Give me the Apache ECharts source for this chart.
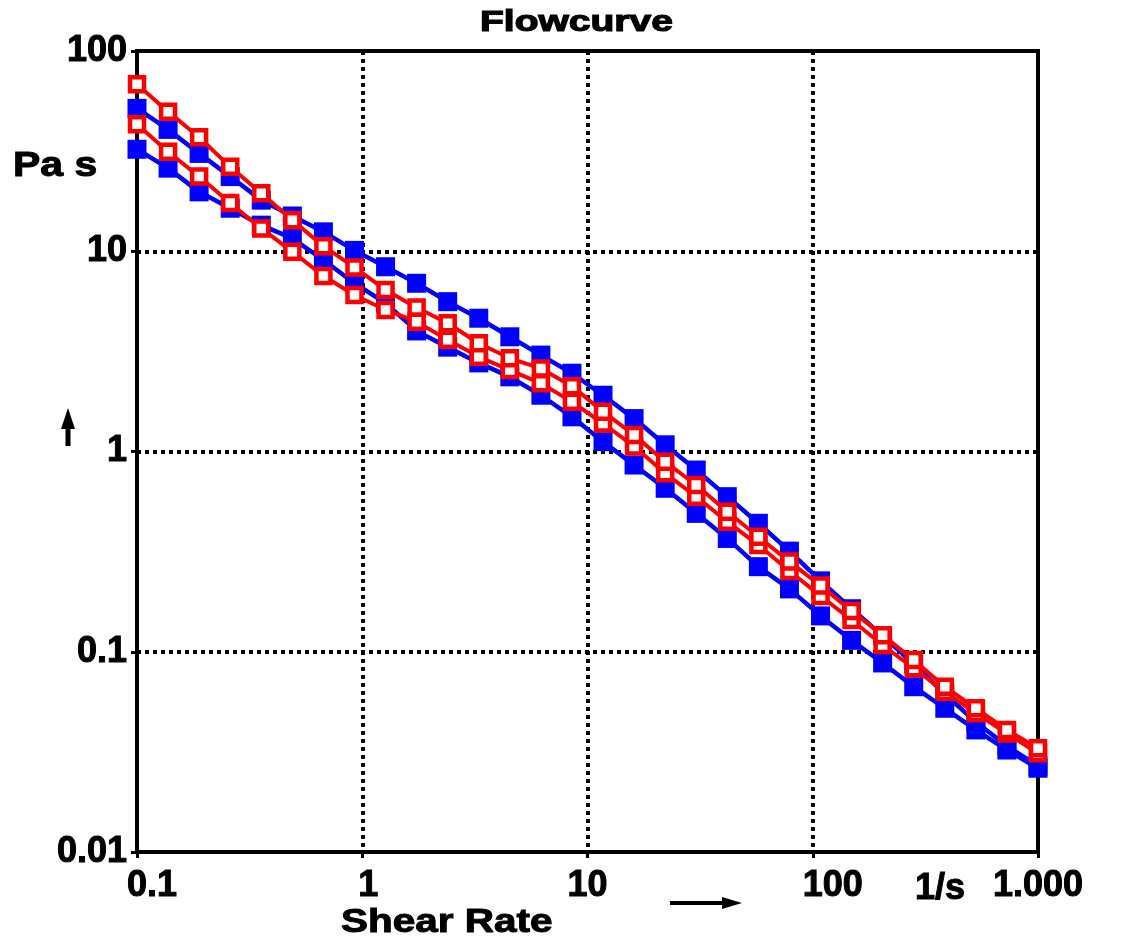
<!DOCTYPE html>
<html>
<head>
<meta charset="utf-8">
<script src="https://cdn.jsdelivr.net/npm/echarts@6/dist/echarts.min.js"></script>
<style>
html,body{margin:0;padding:0;background:#fff;}
#chart{width:1127px;height:938px;}
</style>
</head>
<body>
<div id="chart"></div>
<script>
// Shear rate (1/s) – measuring points
const shearRate = [0.1, 0.1374, 0.1887, 0.2593, 0.3562, 0.4894, 0.6723, 0.9237, 1.269, 1.743,
  2.395, 3.291, 4.521, 6.210, 8.532, 11.72, 16.10, 22.12, 30.39, 41.75,
  57.36, 78.80, 108.3, 148.7, 204.3, 280.7, 385.7, 529.9, 727.9, 1000];

// Viscosity (Pa s) – blue upper curve
const blueUpper = [51.7, 40.6, 30.8, 23.6, 18.0, 15.0, 12.5, 10.1, 8.37, 6.92,
  5.60, 4.63, 3.74, 3.03, 2.46, 1.91, 1.46, 1.08, 0.808, 0.595,
  0.438, 0.318, 0.226, 0.164, 0.120, 0.0869, 0.0615, 0.0446, 0.0338, 0.0269];

// Viscosity (Pa s) – blue lower curve
const blueLower = [32.3, 26.0, 19.8, 16.4, 13.5, 11.6, 9.04, 6.92, 5.51, 4.00,
  3.32, 2.77, 2.36, 1.91, 1.49, 1.12, 0.856, 0.655, 0.491, 0.368,
  0.266, 0.206, 0.151, 0.114, 0.0879, 0.0669, 0.0522, 0.0407, 0.0323, 0.0262];

// Viscosity (Pa s) – red upper curve
const redUpper = [68.2, 49.8, 37.1, 26.4, 19.5, 14.3, 10.6, 8.30, 6.41, 5.24,
  4.37, 3.47, 2.92, 2.60, 2.12, 1.58, 1.21, 0.889, 0.680, 0.500,
  0.375, 0.282, 0.214, 0.160, 0.121, 0.0910, 0.0669, 0.0522, 0.0407, 0.0330];

// Viscosity (Pa s) – red lower curve
const redLower = [43.1, 31.4, 23.6, 17.4, 13.0, 9.95, 7.52, 6.05, 5.09, 4.45,
  3.61, 2.97, 2.55, 2.19, 1.77, 1.38, 1.06, 0.778, 0.595, 0.446,
  0.341, 0.253, 0.190, 0.144, 0.108, 0.0827, 0.0632, 0.0493, 0.0391, 0.0311];

// Tick labels (decades)
const xTickLabels = ['0.1', '1', '10', '100', '1.000'];
const yTickLabels = ['0.01', '0.1', '1', '10', '100'];

const FONT = 'Liberation Sans, Arial, sans-serif';
const pairs = ys => shearRate.map((x, i) => [x, ys[i]]);

const chart = echarts.init(document.getElementById('chart'), null, {renderer: 'canvas'});

function blueSeries(name, ys) {
  return {
    name, type: 'line', data: pairs(ys),
    symbol: 'rect', symbolSize: 19,
    lineStyle: {color: '#0000ff', width: 4.5},
    itemStyle: {color: '#0000ff', borderWidth: 0},
    emphasis: {disabled: true}, animation: false, z: 2
  };
}
function redSeries(name, ys) {
  return {
    name, type: 'line', data: pairs(ys),
    symbol: 'rect', symbolSize: 14,
    lineStyle: {color: '#ff0000', width: 4},
    itemStyle: {color: '#ffffff', borderColor: '#ff0000', borderWidth: 4.5},
    emphasis: {disabled: true}, animation: false, z: 3
  };
}

const heavy = {fontFamily: FONT, fontWeight: 'bold', fontSize: 36, color: '#000',
  textBorderColor: '#000', textBorderWidth: 1};

const option = {
  backgroundColor: '#ffffff',
  animation: false,
  grid: {
    left: 137, right: 89, top: 51, bottom: 86,
    show: true, borderColor: '#000', borderWidth: 4, backgroundColor: 'transparent'
  },
  xAxis: {
    type: 'log', logBase: 10, min: 0.1, max: 1000,
    axisLine: {show: true, lineStyle: {color: '#000', width: 4}},
    axisTick: {show: true, length: 6, lineStyle: {color: '#000', width: 3}},
    minorTick: {show: false},
    splitLine: {show: true, lineStyle: {color: '#000', width: 4, type: [4, 4]}},
    axisLabel: Object.assign({}, heavy, {
      margin: 16,
      formatter: function (v) {
        const k = Math.round(Math.log10(v)) + 1;
        const t = xTickLabels[k];
        if (k === 0) return '{a|' + t + '}';
        if (k === 1) return '{c|' + t + '}';
        if (k === 3) return '{b|' + t + '}';
        return t;
      },
      rich: {
        a: Object.assign({padding: [0, 0, 0, 30]}, heavy),
        b: Object.assign({padding: [0, 0, 0, 40]}, heavy),
        c: Object.assign({padding: [0, 0, 0, 12]}, heavy)
      }
    })
  },
  yAxis: {
    type: 'log', logBase: 10, min: 0.01, max: 100,
    axisLine: {show: true, lineStyle: {color: '#000', width: 4}},
    axisTick: {show: true, length: 6, lineStyle: {color: '#000', width: 3}},
    minorTick: {show: false},
    splitLine: {show: true, lineStyle: {color: '#000', width: 4, type: [4, 4]}},
    axisLabel: Object.assign({}, heavy, {
      margin: 10,
      formatter: function (v) { return yTickLabels[Math.round(Math.log10(v)) + 2]; }
    })
  },
  series: [
    blueSeries('blue lower', blueLower),
    blueSeries('blue upper', blueUpper),
    redSeries('red lower', redLower),
    redSeries('red upper', redUpper)
  ],
  graphic: [
    {type: 'text', x: 480, y: 23, scaleX: 1.3, z: 10,
     style: {text: 'Flowcurve', fill: '#000', stroke: '#000', lineWidth: 1.2,
       font: 'bold 30px ' + FONT, align: 'left', verticalAlign: 'middle'}},
    {type: 'text', x: 13, y: 166, scaleX: 1.17, z: 10,
     style: {text: 'Pa s', fill: '#000', stroke: '#000', lineWidth: 1,
       font: 'bold 35px ' + FONT, align: 'left', verticalAlign: 'middle'}},
    {type: 'text', x: 341, y: 923, scaleX: 1.19, z: 10,
     style: {text: 'Shear Rate', fill: '#000', stroke: '#000', lineWidth: 1,
       font: 'bold 34px ' + FONT, align: 'left', verticalAlign: 'middle'}},
    {type: 'text', x: 915, y: 889, z: 10,
     style: {text: '1/s', fill: '#000', stroke: '#000', lineWidth: 1,
       font: 'bold 36px ' + FONT, align: 'left', verticalAlign: 'middle'}},
    {type: 'line', z: 10, shape: {x1: 68, y1: 446, x2: 68, y2: 422}, style: {stroke: '#000', lineWidth: 5}},
    {type: 'polygon', z: 10, shape: {points: [[61, 429], [75, 429], [68, 408]]}, style: {fill: '#000'}},
    {type: 'line', z: 10, shape: {x1: 670, y1: 903, x2: 726, y2: 903}, style: {stroke: '#000', lineWidth: 4}},
    {type: 'polygon', z: 10, shape: {points: [[722, 897], [722, 909], [742, 903]]}, style: {fill: '#000'}}
  ]
};
chart.setOption(option);
</script>
</body>
</html>
